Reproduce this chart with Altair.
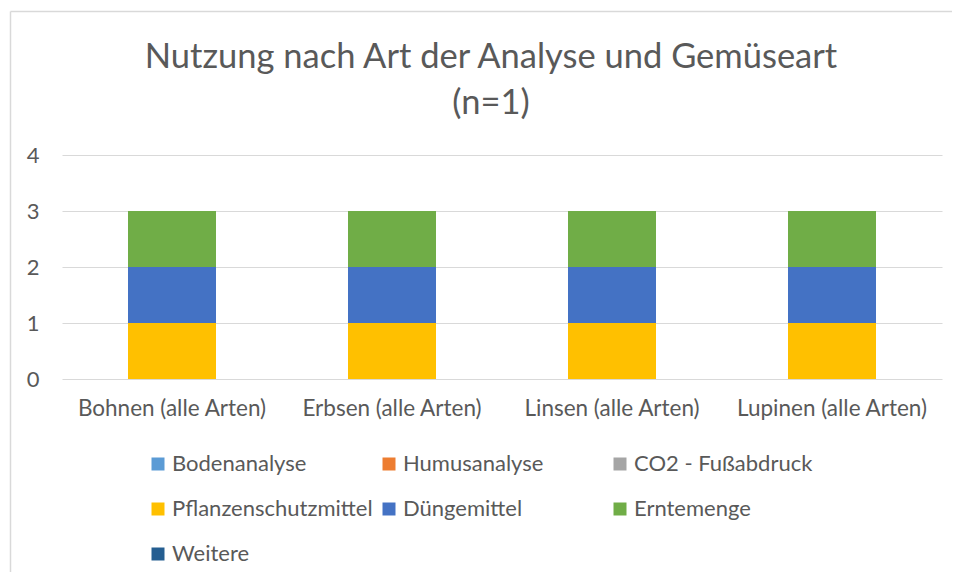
import altair as alt
import pandas as pd

categories = ["Bohnen (alle Arten)", "Erbsen (alle Arten)", "Linsen (alle Arten)", "Lupinen (alle Arten)"]
series = ["Bodenanalyse", "Humusanalyse", "CO2 - Fußabdruck", "Pflanzenschutzmittel",
          "Düngemittel", "Erntemenge", "Weitere"]
colors = ["#5B9BD5", "#ED7D31", "#A5A5A5", "#FFC000", "#4472C4", "#70AD47", "#255E91"]

bodenanalyse = [0, 0, 0, 0]
humusanalyse = [0, 0, 0, 0]
co2_fussabdruck = [0, 0, 0, 0]
pflanzenschutzmittel = [1, 1, 1, 1]
duengemittel = [1, 1, 1, 1]
erntemenge = [1, 1, 1, 1]
weitere = [0, 0, 0, 0]

values = [bodenanalyse, humusanalyse, co2_fussabdruck, pflanzenschutzmittel,
          duengemittel, erntemenge, weitere]

rows = []
for si, (s, vals) in enumerate(zip(series, values)):
    for c, v in zip(categories, vals):
        rows.append({"Gemüseart": c, "Analyse": s, "Wert": v, "idx": si})
df = pd.DataFrame(rows)

FONT = "Lato"
TXT = "#595959"
GRID = "#d9d9d9"

bars = alt.Chart(df).mark_bar().encode(
    x=alt.X("Gemüseart:N", sort=categories,
            scale=alt.Scale(paddingInner=0.6, paddingOuter=0.3),
            axis=alt.Axis(title=None, labelAngle=0, labelFontSize=22.5, labelFont=FONT,
                          labelColor=TXT, labelPadding=18, ticks=False, domain=False,
                          grid=False, labelLimit=400)),
    y=alt.Y("Wert:Q", stack="zero", scale=alt.Scale(domain=[0, 4]),
            axis=alt.Axis(values=[0, 1, 2, 3, 4], title=None, domain=False, ticks=False,
                          grid=True, gridColor=GRID, gridWidth=1, labelFontSize=22,
                          labelFont=FONT, labelColor=TXT, labelPadding=23)),
    color=alt.Color("Analyse:N", scale=alt.Scale(domain=series, range=colors),
                    legend=alt.Legend(title=None, orient="none", legendX=85, legendY=298,
                                      direction="horizontal", columns=3,
                                      symbolType="square", symbolSize=169,
                                      symbolStrokeWidth=0, labelFontSize=22, labelFont=FONT,
                                      labelColor=TXT, labelOffset=3, columnPadding=5,
                                      rowPadding=23, gridAlign="all", labelLimit=400)),
    order=alt.Order("idx:Q"),
)

edge_data = pd.DataFrame({"b": [0]})
left_edge = alt.Chart(edge_data).mark_rule(color=GRID, strokeWidth=1.5).encode(
    x=alt.value(-51.5), y=alt.value(-143.5), y2=alt.value(417),
)
top_edge = alt.Chart(edge_data).mark_rule(color=GRID, strokeWidth=1.5).encode(
    x=alt.value(-51.5), x2=alt.value(890), y=alt.value(-143.5),
)

chart = alt.layer(left_edge, top_edge, bars).properties(
    width=880,
    height=224,
    autosize=alt.AutoSizeParams(type="none"),
    padding={"left": 54, "top": 147, "right": 10, "bottom": 193},
    title=alt.Title(["Nutzung nach Art der Analyse und Gemüseart", "(n=1)"],
                    fontSize=34.5, font=FONT, color=TXT, fontWeight="normal",
                    lineHeight=46, anchor="middle", dx=-11, offset=-111),
).configure(background="white").configure_view(stroke=None)

chart.save("out.html", embed_options={"renderer": "svg", "actions": False})
